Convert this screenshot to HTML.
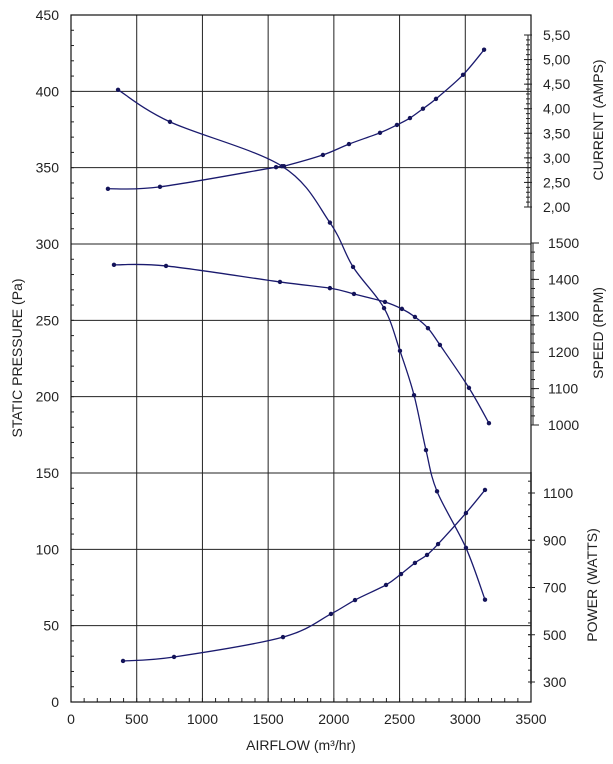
<!DOCTYPE html>
<html><head><meta charset="utf-8"><style>
body{margin:0;background:#fff}
svg{display:block;font-family:"Liberation Sans",Arial,sans-serif}
</style></head><body>
<svg id="chart" width="613" height="764" viewBox="0 0 613 764" xmlns="http://www.w3.org/2000/svg">
<g id="grid"></g>
<g id="axes"></g>
<g id="series"></g>
<text x="0" y="0" transform="translate(22,358) rotate(-90)" text-anchor="middle" font-size="14" fill="#222">STATIC PRESSURE (Pa)</text>
<text x="301" y="750" text-anchor="middle" font-size="14" fill="#222">AIRFLOW (m³/hr)</text>
<text transform="translate(603,120) rotate(-90)" text-anchor="middle" font-size="14" fill="#222">CURRENT (AMPS)</text>
<text transform="translate(603,333) rotate(-90)" text-anchor="middle" font-size="14" fill="#222">SPEED (RPM)</text>
<text transform="translate(597,585) rotate(-90)" text-anchor="middle" font-size="14" fill="#222">POWER (WATTS)</text>
</svg>
<script>
const xTicks=[0,500,1000,1500,2000,2500,3000,3500];
const yTicks=[0,50,100,150,200,250,300,350,400,450];
const currentTicks=[2.0,2.5,3.0,3.5,4.0,4.5,5.0,5.5];
const speedTicks=[1000,1100,1200,1300,1400,1500];
const powerTicks=[300,500,700,900,1100];

const pressureFlow=[358,753,1605,1970,2146,2382,2503,2610,2701,2785,3005,3150];
const pressureVals=[401,380,351,314,285,258,230,201,165,138,101,67];
const currentFlow=[281,677,1560,1620,1917,2115,2351,2480,2579,2678,2777,2983,3143];
const currentVals=[2.37,2.41,2.81,2.83,3.06,3.28,3.51,3.67,3.81,4.00,4.20,4.69,5.20];
const speedFlow=[327,723,1590,1970,2153,2389,2518,2617,2716,2807,3028,3180];
const speedVals=[1440,1437,1393,1376,1360,1338,1319,1297,1266,1220,1102,1005];
const powerFlow=[396,784,1613,1978,2161,2397,2511,2617,2709,2793,3005,3150];
const powerVals=[389,406,490,588,647,711,757,804,838,884,1015,1113];

const L=71,R=531,T=15,B=702;
const xs=v=>L+v/3500*(R-L);
const ys=v=>B-v/450*(B-T);
const yc=v=>207-(v-2)/3.5*172;
const ysp=v=>425-(v-1000)*0.364;
const yp=v=>682-(v-300)*0.23625;
const NS="http://www.w3.org/2000/svg";
function mk(tag,attrs,parent,txt){const e=document.createElementNS(NS,tag);for(const k in attrs)e.setAttribute(k,attrs[k]);if(txt!==undefined)e.textContent=txt;parent.appendChild(e);return e;}
const grid=document.getElementById('grid'),axes=document.getElementById('axes'),ser=document.getElementById('series');

xTicks.forEach(t=>{
 if(t>0&&t<3500){const l=mk('line',{x1:xs(t),x2:xs(t),y1:T,y2:B,stroke:'#222','stroke-width':1},grid);
 
 }
 const tx=mk('text',{x:xs(t),y:724,'text-anchor':'middle','font-size':14,fill:'#222'},axes,String(t));
 
 
});
for(let v=0;v<=3500;v+=100){mk('line',{x1:xs(v),x2:xs(v),y1:B,y2:B-4,stroke:'#222'},axes);}
yTicks.forEach(t=>{
 if(t>0){const l=mk('line',{x1:L,x2:R,y1:ys(t),y2:ys(t),stroke:'#222','stroke-width':1},grid);
 
 }
 const tx=mk('text',{x:59,y:ys(t)+5,'text-anchor':'end','font-size':14,fill:'#222'},axes,String(t));
 
 
});
for(let v=0;v<=450;v+=10){mk('line',{x1:L,x2:L+3,y1:ys(v),y2:ys(v),stroke:'#222'},axes);}
mk('rect',{x:L,y:T,width:R-L,height:B-T,fill:'none',stroke:'#111','stroke-width':1.2},axes);

// current axis
mk('line',{x1:528,x2:528,y1:yc(5.5),y2:yc(2),stroke:'#222'},axes);
for(let v=2;v<=5.501;v+=0.1){mk('line',{x1:526,x2:530,y1:yc(v),y2:yc(v),stroke:'#222'},axes);}
currentTicks.forEach(t=>{mk('line',{x1:524,x2:532,y1:yc(t),y2:yc(t),stroke:'#222'},axes);
 const tx=mk('text',{x:543,y:yc(t)+5,'font-size':14,fill:'#222'},axes,t.toFixed(2).replace('.',','));
 
 });
// speed axis
mk('line',{x1:533,x2:533,y1:ysp(1500),y2:ysp(1000),stroke:'#222'},axes);
for(let v=1000;v<=1500;v+=25){mk('line',{x1:531,x2:535,y1:ysp(v),y2:ysp(v),stroke:'#222'},axes);}
speedTicks.forEach(t=>{mk('line',{x1:531,x2:539,y1:ysp(t),y2:ysp(t),stroke:'#222'},axes);
 const tx=mk('text',{x:548,y:ysp(t)+5,'font-size':14,fill:'#222'},axes,String(t));
 
 });
// power axis
mk('line',{x1:531,x2:531,y1:472,y2:684,stroke:'#222','stroke-width':1.5},axes);
for(let v=300;v<=1180;v+=50){mk('line',{x1:528,x2:531,y1:yp(v),y2:yp(v),stroke:'#222'},axes);}
powerTicks.forEach(t=>{mk('line',{x1:528,x2:535,y1:yp(t),y2:yp(t),stroke:'#222'},axes);
 const tx=mk('text',{x:543,y:yp(t)+5,'font-size':14,fill:'#222'},axes,String(t));
 
 });

function curve(pts){let d=`M${pts[0][0]},${pts[0][1]}`;
 for(let i=0;i<pts.length-1;i++){const p0=pts[Math.max(0,i-1)],p1=pts[i],p2=pts[i+1],p3=pts[Math.min(pts.length-1,i+2)];
 const c1=[p1[0]+(p2[0]-p0[0])/6,p1[1]+(p2[1]-p0[1])/6],c2=[p2[0]-(p3[0]-p1[0])/6,p2[1]-(p3[1]-p1[1])/6];
 d+=` C${c1[0]},${c1[1]} ${c2[0]},${c2[1]} ${p2[0]},${p2[1]}`;}return d;}
function series(name,fx,fy,yfn){const pts=fx.map((x,i)=>[xs(x),yfn(fy[i])]);
 const g=mk('g',{},ser);
 
 
 const p=mk('path',{d:curve(pts),fill:'none',stroke:'#1a1a6e','stroke-width':1.3},g);
 
 
 pts.forEach(q=>{const c=mk('circle',{cx:q[0],cy:q[1],r:2.2,fill:'#14145a'},g);
 
 });}
series('pressure',pressureFlow,pressureVals,ys);
series('current',currentFlow,currentVals,yc);
series('speed',speedFlow,speedVals,ysp);
series('power',powerFlow,powerVals,yp);
</script>
</body></html>
